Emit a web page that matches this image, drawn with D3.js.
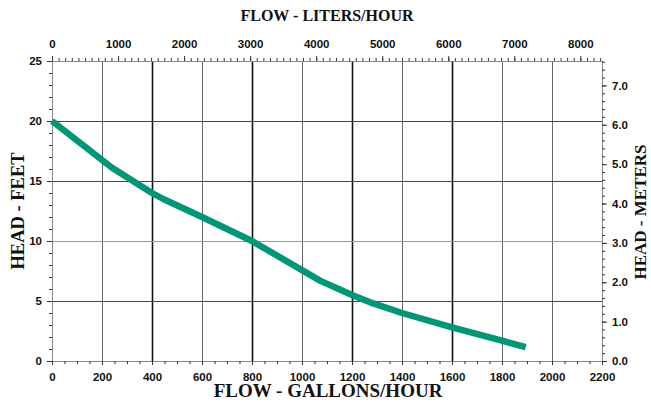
<!DOCTYPE html>
<html>
<head>
<meta charset="utf-8">
<script src="https://cdn.jsdelivr.net/npm/d3@7"></script>
<style>
    html, body { margin: 0; padding: 0; background: #fff; }
    .tick text { font-family: "Liberation Sans", Arial, sans-serif; font-weight: bold; font-size: 11.5px; fill: #111; }
    .axis-title { font-family: "Liberation Serif", "Times New Roman", serif; font-weight: bold; fill: #111; }
</style>
</head>
<body>
<div id="chart"></div>
<script>
// pump curve
const flowGph = [0, 240, 400, 445, 600, 800, 1072, 1200, 1285, 1400, 1600, 1800, 1895];
const headFt = [20, 16.1, 14.0, 13.5, 12.0, 10.0, 6.7, 5.5, 4.8, 4.0, 2.8, 1.7, 1.15];

const gphTicks = [0, 200, 400, 600, 800, 1000, 1200, 1400, 1600, 1800, 2000, 2200];
const heavyGph = [400, 800, 1200, 1600];
const lphTicks = [0, 1000, 2000, 3000, 4000, 5000, 6000, 7000, 8000];
const feetTicks = [0, 5, 10, 15, 20, 25];
const meterTicks = [0, 1, 2, 3, 4, 5, 6, 7];

const GAL_TO_L = 3.78541;
const FT_TO_M = 0.3048;

class Chart {
    constructor() {
        const attrs = {
            container: "#chart",
            svgWidth: 651,
            svgHeight: 403,
            marginTop: 61,
            marginBottom: 42,
            marginLeft: 52,
            marginRight: 49,
            lineColor: "#009676",
            maxGph: 2200,
            maxFt: 25
        };
        this.getState = () => attrs;
        this.setState = (d) => Object.assign(attrs, d);
        this.initializeEnterExitUpdatePattern();
    }

    initializeEnterExitUpdatePattern() {
        d3.selection.prototype.patternify = function (params) {
            var container = this;
            var selector = params.selector;
            var data = params.data || [selector];
            var selection = container.selectAll("." + selector).data(data);
            selection.exit().remove();
            selection = selection.enter().append(params.tag).merge(selection);
            selection.attr("class", selector);
            return selection;
        };
    }

    render() {
        this.calculateProperties();
        this.drawSvgAndWrappers();
        this.drawGrid();
        this.drawAxes();
        this.drawCurve();
        this.drawTitles();
    }

    calculateProperties() {
        const attrs = this.getState();
        const chartWidth = attrs.svgWidth - attrs.marginLeft - attrs.marginRight;
        const chartHeight = attrs.svgHeight - attrs.marginTop - attrs.marginBottom;

        const xScale = d3.scaleLinear().domain([0, attrs.maxGph]).range([0, chartWidth]);
        const xScaleL = d3.scaleLinear().domain([0, attrs.maxGph * GAL_TO_L]).range([0, chartWidth]);
        const yScale = d3.scaleLinear().domain([0, attrs.maxFt]).range([chartHeight, 0]);
        const yScaleM = d3.scaleLinear().domain([0, attrs.maxFt * FT_TO_M]).range([chartHeight, 0]);

        this.setState({ calc: { chartWidth, chartHeight }, xScale, xScaleL, yScale, yScaleM });
    }

    drawSvgAndWrappers() {
        const { container, svgWidth, svgHeight, marginLeft, marginTop } = this.getState();
        const svg = d3.select(container)
            .patternify({ tag: "svg", selector: "svg-chart-container" })
            .attr("width", svgWidth)
            .attr("height", svgHeight)
            .style("display", "block");

        const chart = svg.patternify({ tag: "g", selector: "chart" })
            .attr("transform", `translate(${marginLeft},${marginTop})`);

        this.setState({ svg, chart });
    }

    drawGrid() {
        const { chart, xScale, yScale, calc: { chartWidth, chartHeight } } = this.getState();
        const gridWrap = chart.patternify({ tag: "g", selector: "grid-wrap" });
        const heavy = d => heavyGph.includes(d);

        // vertical lines every 200 gph, heavier ones at the 400s
        gridWrap.patternify({ tag: "line", selector: "grid-x", data: gphTicks.slice(1, -1) })
            .attr("x1", d => Math.round(xScale(d)) + 0.5)
            .attr("x2", d => Math.round(xScale(d)) + 0.5)
            .attr("y1", 0)
            .attr("y2", chartHeight)
            .attr("stroke", d => heavy(d) ? "#111" : "#666")
            .attr("stroke-width", d => heavy(d) ? 1.6 : 1);

        gridWrap.patternify({ tag: "line", selector: "grid-y", data: feetTicks.slice(1, -1) })
            .attr("x1", 0)
            .attr("x2", chartWidth)
            .attr("y1", d => Math.round(yScale(d)) + 0.5)
            .attr("y2", d => Math.round(yScale(d)) + 0.5)
            .attr("stroke", d => d === 10 ? "#999" : "#444")
            .attr("stroke-width", 1);

        gridWrap.patternify({ tag: "rect", selector: "frame" })
            .attr("x", 0.5)
            .attr("y", 0.5)
            .attr("width", chartWidth)
            .attr("height", chartHeight)
            .attr("fill", "none")
            .attr("stroke", "#888")
            .attr("stroke-width", 1);
    }

    drawAxes() {
        const { chart, xScale, xScaleL, yScale, yScaleM, maxGph, maxFt, calc: { chartWidth, chartHeight } } = this.getState();
        const axisWrap = chart.patternify({ tag: "g", selector: "axis-wrap" });

        const minorGph = d3.range(0, maxGph + 1, 50);
        const minorLph = d3.range(0, maxGph * GAL_TO_L, 100);
        const minorFt = d3.range(0, maxFt + 0.1, 1);
        const minorM = d3.range(0, maxFt * FT_TO_M, 0.2);

        const axes = [
            { key: "bottom", axis: d3.axisBottom(xScale).tickValues(gphTicks).tickFormat(d3.format("d")).tickSize(4).tickPadding(8),
              minor: d3.axisBottom(xScale).tickValues(minorGph).tickSize(3).tickFormat(""), tr: `translate(0,${chartHeight})` },
            { key: "top", axis: d3.axisTop(xScaleL).tickValues(lphTicks).tickFormat(d3.format("d")).tickSize(5).tickPadding(8),
              minor: d3.axisTop(xScaleL).tickValues(minorLph).tickSize(3).tickFormat(""), tr: "translate(0,0)" },
            { key: "left", axis: d3.axisLeft(yScale).tickValues(feetTicks).tickFormat(d3.format("d")).tickSize(5).tickPadding(5),
              minor: d3.axisLeft(yScale).tickValues(minorFt).tickSize(3).tickFormat(""), tr: "translate(0,0)" },
            { key: "right", axis: d3.axisRight(yScaleM).tickValues(meterTicks).tickFormat(d3.format(".1f")).tickSize(5).tickPadding(5),
              minor: d3.axisRight(yScaleM).tickValues(minorM).tickSize(3).tickFormat(""), tr: `translate(${chartWidth},0)` }
        ];

        axes.forEach(a => {
            const minorG = axisWrap.patternify({ tag: "g", selector: "minor-" + a.key })
                .attr("transform", a.tr)
                .call(a.minor);
            const majorG = axisWrap.patternify({ tag: "g", selector: "major-" + a.key })
                .attr("transform", a.tr)
                .call(a.axis);
            [minorG, majorG].forEach(g => {
                g.selectAll(".domain").remove();
                g.selectAll(".tick line").attr("stroke", "#333").attr("stroke-width", 1);
            });
        });
    }

    drawCurve() {
        const { chart, xScale, yScale, lineColor } = this.getState();
        const points = flowGph.map((g, i) => [g, headFt[i]]);
        const line = d3.line().x(d => xScale(d[0])).y(d => yScale(d[1]));

        chart.patternify({ tag: "path", selector: "pump-curve", data: [points] })
            .attr("d", line)
            .attr("fill", "none")
            .attr("stroke", lineColor)
            .attr("stroke-width", 6.5)
            .attr("stroke-linejoin", "round");
    }

    drawTitles() {
        const { svg } = this.getState();
        const titles = [
            { text: "FLOW - LITERS/HOUR", x: 327, y: 21, size: 16, rotate: 0 },
            { text: "FLOW - GALLONS/HOUR", x: 328, y: 397, size: 19, rotate: 0 },
            { text: "HEAD - FEET", x: 24, y: 211, size: 18.5, rotate: -90 },
            { text: "HEAD - METERS", x: 646, y: 212, size: 17, rotate: -90 }
        ];
        svg.patternify({ tag: "text", selector: "axis-title", data: titles })
            .text(d => d.text)
            .attr("text-anchor", "middle")
            .attr("font-size", d => d.size)
            .attr("transform", d => `translate(${d.x},${d.y}) rotate(${d.rotate})`);
    }
}

new Chart().render();
</script>
</body>
</html>
